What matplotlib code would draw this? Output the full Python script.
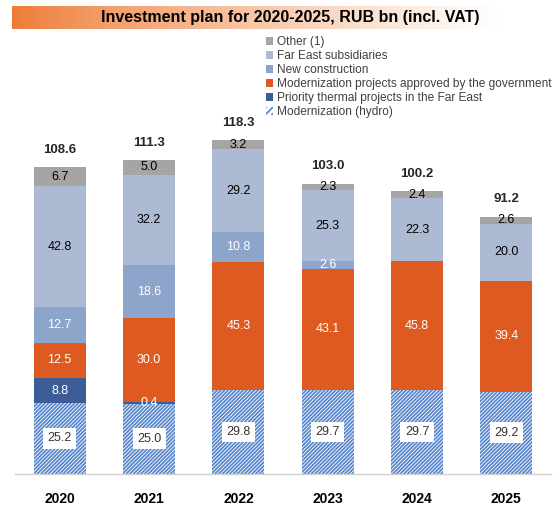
import matplotlib.pyplot as plt
import numpy as np
from matplotlib.patches import Patch

plt.rcParams['font.family'] = ['Liberation Sans', 'DejaVu Sans']
plt.rcParams['hatch.linewidth'] = 1.3

years = ['2020', '2021', '2022', '2023', '2024', '2025']
hydro = [25.2, 25.0, 29.8, 29.7, 29.7, 29.2]
priority = [8.8, 0.4, 0, 0, 0, 0]
modern_gov = [12.5, 30.0, 45.3, 43.1, 45.8, 39.4]
new_constr = [12.7, 18.6, 10.8, 2.6, 0, 0]
far_east = [42.8, 32.2, 29.2, 25.3, 22.3, 20.0]
other = [6.7, 5.0, 3.2, 2.3, 2.4, 2.6]
totals = [108.6, 111.3, 118.3, 103.0, 100.2, 91.2]

c_hydro = '#5a88cc'
c_priority = '#3d5d97'
c_gov = '#df5a20'
c_new = '#8da4cb'
c_far = '#adbad4'
c_other = '#a5a5a5'
hatch = '/////////'

fig = plt.figure(figsize=(5.57, 5.13), dpi=100)
W, H = 557, 513

# title banner with gradient
bax = fig.add_axes([12 / W, 1 - 29 / H, 535 / W, 23 / H])
grad = np.linspace(0, 1, 256)
orange = np.array([0.93, 0.48, 0.20])
white = np.array([1.0, 1.0, 1.0])
t = np.clip(grad * 1.1, 0, 1) ** 0.8
img = orange[None, :] * (1 - t[:, None]) + white[None, :] * t[:, None]
bax.imshow(img[None, :, :], aspect='auto', extent=[0, 1, 0, 1])
bax.set_axis_off()
fig.text(290 / W, 1 - 17.5 / H, 'Investment plan for 2020-2025, RUB bn (incl. VAT)',
         ha='center', va='center', fontsize=11.5, fontweight='bold', color='black')

ax = fig.add_axes([15 / W, 39 / H, 536 / W, 423 / H])
x = np.arange(len(years))
w = 0.585

layers = [
    (priority, c_priority, 'white'),
    (modern_gov, c_gov, 'white'),
    (new_constr, c_new, 'white'),
    (far_east, c_far, 'black'),
    (other, c_other, 'black'),
]

ax.bar(x, hydro, w, color='white', edgecolor=c_hydro, hatch=hatch, linewidth=0)
for i, v in enumerate(hydro):
    ax.text(x[i], v / 2, f'{v:.1f}', ha='center', va='center', fontsize=9, color='#333333',
            bbox=dict(boxstyle='square,pad=0.35', fc='white', ec='none'))

bottom = np.array(hydro, dtype=float)
for vals, col, tc in layers:
    vals = np.array(vals, dtype=float)
    ax.bar(x, vals, w, bottom=bottom, color=col, linewidth=0)
    for i, v in enumerate(vals):
        if v > 0:
            ax.text(x[i], bottom[i] + v / 2, f'{v:.1f}', ha='center', va='center',
                    fontsize=9, color=tc)
    bottom += vals

for i, tot in enumerate(totals):
    ax.text(x[i], bottom[i] + 6.3, f'{tot:.1f}', ha='center', va='center',
            fontsize=9.5, fontweight='bold', color='#262626')

ax.set_xlim(-0.5, 5.5)
ax.set_ylim(0, 150)
ax.set_xticks(x)
ax.set_xticklabels(years, fontsize=10, fontweight='bold')
ax.tick_params(axis='x', length=0, pad=13)
ax.set_yticks([])
for s in ['top', 'right', 'left']:
    ax.spines[s].set_visible(False)
ax.spines['bottom'].set_color('#d0d0d0')
ax.spines['bottom'].set_linewidth(1)

handles = [
    Patch(facecolor=c_other, label='Other (1)'),
    Patch(facecolor=c_far, label='Far East subsidiaries'),
    Patch(facecolor=c_new, label='New construction'),
    Patch(facecolor=c_gov, label='Modernization projects approved by the government'),
    Patch(facecolor=c_priority, label='Priority thermal projects in the Far East'),
    Patch(facecolor='white', edgecolor=c_hydro, hatch='/////', linewidth=0,
          label='Modernization (hydro)'),
]
fig.legend(handles=handles, loc='upper left', bbox_to_anchor=(260 / W, 1 - 30 / H),
           frameon=False, fontsize=8.6, handlelength=0.6, handleheight=0.6,
           handletextpad=0.3, labelspacing=0.17, borderpad=0, labelcolor='#404040')

fig.savefig('out.png', dpi=100)
